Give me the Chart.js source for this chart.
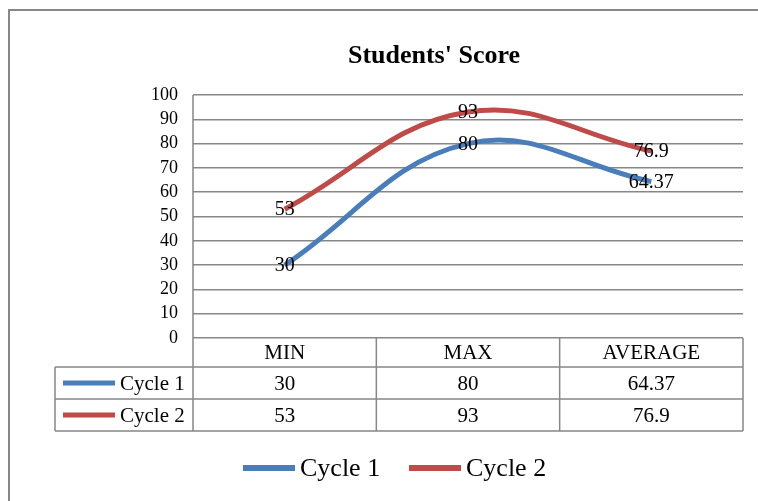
<!DOCTYPE html>
<html lang="en">
<head>
<meta charset="UTF-8">
<title>Students' Score</title>
<style>
    body { margin: 0; background: #fff; }
    #wrap { width: 758px; height: 501px; position: relative; }
</style>
</head>
<body>
<div id="wrap"><canvas id="scoreChart" width="758" height="501"></canvas></div>
<script src="https://cdn.jsdelivr.net/npm/chart.js"></script>
<script>
    // data
    const categories = ['MIN', 'MAX', 'AVERAGE'];
    const cycle1 = [30, 80, 64.37];
    const cycle2 = [53, 93, 76.9];
    const yTicks = [0, 10, 20, 30, 40, 50, 60, 70, 80, 90, 100];

    const FONT = "'Liberation Serif', 'Times New Roman', serif";
    const GRID = '#878787';
    const BLUE = '#4A7EBB';
    const RED = '#BE4B48';

    // draws the frame, title, data labels, data table and legend
    const tablePlugin = {
        id: 'tablePlugin',
        beforeDraw(chart) {
            const ctx = chart.ctx;
            ctx.save();
            ctx.fillStyle = '#fff';
            ctx.fillRect(0, 0, chart.width, chart.height);
            ctx.strokeStyle = GRID;
            ctx.lineWidth = 2;
            ctx.strokeRect(9, 10, 900, 700);
            ctx.restore();
        },
        afterDraw(chart) {
            const ctx = chart.ctx;
            const area = chart.chartArea;
            const x = chart.scales.x;
            const n = categories.length;
            const band = area.width / n;
            const rows = [area.bottom, 367, 399, 431];
            const labelLeft = 55;

            ctx.save();
            // title
            ctx.fillStyle = '#000';
            ctx.font = 'bold 26px ' + FONT;
            ctx.textAlign = 'center';
            ctx.textBaseline = 'middle';
            ctx.fillText("Students' Score", 434, 56);

            // point labels
            ctx.font = '20px ' + FONT;
            chart.data.datasets.forEach((ds, di) => {
                const meta = chart.getDatasetMeta(di);
                meta.data.forEach((pt, i) => {
                    ctx.fillText(String(ds.data[i]), pt.x, pt.y + 1);
                });
            });

            // table grid
            ctx.strokeStyle = GRID;
            ctx.lineWidth = 1.5;
            ctx.beginPath();
            for (let r = 1; r < rows.length; r++) {
                ctx.moveTo(labelLeft, rows[r]);
                ctx.lineTo(area.right, rows[r]);
            }
            ctx.moveTo(labelLeft, rows[1]);
            ctx.lineTo(labelLeft, rows[3]);
            for (let c = 0; c <= n; c++) {
                const cx = area.left + c * band;
                ctx.moveTo(cx, c === 0 ? area.top : rows[0]);
                ctx.lineTo(cx, rows[3]);
            }
            ctx.stroke();

            // table text
            ctx.fillStyle = '#000';
            ctx.font = '21px ' + FONT;
            ctx.textAlign = 'center';
            categories.forEach((cat, i) => {
                ctx.fillText(cat, x.getPixelForValue(i), (rows[0] + rows[1]) / 2 + 1);
            });
            chart.data.datasets.forEach((ds, di) => {
                const yMid = (rows[di + 1] + rows[di + 2]) / 2 + 1;
                ds.data.forEach((v, i) => {
                    ctx.fillText(String(v), x.getPixelForValue(i), yMid);
                });
                ctx.strokeStyle = ds.borderColor;
                ctx.lineWidth = 5;
                ctx.beginPath();
                ctx.moveTo(63, yMid - 1);
                ctx.lineTo(115, yMid - 1);
                ctx.stroke();
                ctx.textAlign = 'left';
                ctx.fillText(ds.label, 120, yMid);
                ctx.textAlign = 'center';
            });

            // bottom legend
            ctx.font = '26px ' + FONT;
            ctx.textAlign = 'left';
            const legendX = [243, 409];
            chart.data.datasets.forEach((ds, di) => {
                const lx = legendX[di];
                ctx.strokeStyle = ds.borderColor;
                ctx.lineWidth = 6;
                ctx.beginPath();
                ctx.moveTo(lx, 468);
                ctx.lineTo(lx + 52, 468);
                ctx.stroke();
                ctx.fillText(ds.label, lx + 57, 469);
            });
            ctx.restore();
        }
    };

    const ctx = document.getElementById('scoreChart').getContext('2d');
    const scoreChart = new Chart(ctx, {
        type: 'line',
        data: {
            labels: categories,
            datasets: [{
                label: 'Cycle 1',
                data: cycle1,
                borderColor: BLUE,
                borderWidth: 5,
                pointRadius: 0,
                tension: 0.4,
                borderCapStyle: 'butt'
            }, {
                label: 'Cycle 2',
                data: cycle2,
                borderColor: RED,
                borderWidth: 5,
                pointRadius: 0,
                tension: 0.4,
                borderCapStyle: 'butt'
            }]
        },
        options: {
            responsive: false,
            animation: false,
            layout: { padding: { left: 0, right: 15, top: 95, bottom: 163 } },
            plugins: {
                legend: { display: false },
                title: { display: false },
                tooltip: { enabled: false }
            },
            scales: {
                x: {
                    display: false,
                    offset: true
                },
                y: {
                    min: 0,
                    max: 100,
                    afterFit(scale) { scale.width = 193; },
                    afterBuildTicks(scale) { scale.ticks = yTicks.map(v => ({ value: v })); },
                    border: { display: false },
                    grid: { color: GRID, lineWidth: 1.5, drawTicks: false },
                    ticks: {
                        color: '#000',
                        padding: 15,
                        autoSkip: false,
                        stepSize: 10,
                        font: { family: FONT, size: 18 }
                    }
                }
            }
        },
        plugins: [tablePlugin]
    });
</script>
</body>
</html>
